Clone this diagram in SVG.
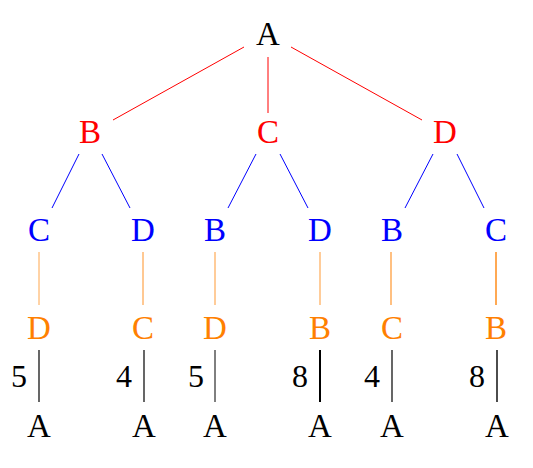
<svg xmlns="http://www.w3.org/2000/svg" width="533" height="468" viewBox="0 0 533 468">
  <style>
    .lbl { font-family: "Liberation Serif", "DejaVu Serif", serif; font-size: 33px; text-anchor: middle; }
    .num { font-family: "Liberation Serif", "DejaVu Serif", serif; font-size: 32px; text-anchor: middle; fill: #000; }
    .r { fill: #ff0000; }
    .b { fill: #0000ff; }
    .o { fill: #ff8000; }
    .k { fill: #000000; }
    .er { stroke: #ff0000; stroke-width: 1; fill: none; }
    .eb { stroke: #0000ff; stroke-width: 1; fill: none; }
    .eo { stroke: #ff8000; fill: none; }
    .ek { stroke: #000000; fill: none; }
  </style>
  <rect width="533" height="468" fill="#ffffff"/>

  <!-- tree edges -->
  <g id="connectors">
    <line class="er" x1="244" y1="47" x2="113" y2="120"/>
    <line class="er" x1="268" y1="57" x2="268" y2="113"/>
    <line class="er" x1="291" y1="47" x2="422" y2="120"/>

    <line class="eb" x1="79" y1="154" x2="52" y2="208"/>
    <line class="eb" x1="102" y1="154" x2="130" y2="208"/>
    <line class="eb" x1="256" y1="154" x2="228" y2="208"/>
    <line class="eb" x1="280" y1="154" x2="308" y2="208"/>
    <line class="eb" x1="433" y1="154" x2="405" y2="208"/>
    <line class="eb" x1="457" y1="154" x2="484" y2="208"/>

    <line class="eo" x1="39" y1="252" x2="39" y2="305" stroke-width="1" stroke-opacity="0.7"/>
    <line class="eo" x1="143" y1="252" x2="143" y2="305" stroke-width="1" stroke-opacity="0.85"/>
    <line class="eo" x1="215" y1="252" x2="215" y2="305" stroke-width="1" stroke-opacity="0.8"/>
    <line class="eo" x1="320" y1="252" x2="320" y2="305" stroke-width="1" stroke-opacity="0.8"/>
    <line class="eo" x1="391" y1="252" x2="391" y2="305" stroke-width="1.1" stroke-opacity="0.9"/>
    <line class="eo" x1="496" y1="252" x2="496" y2="305" stroke-width="1.5" stroke-opacity="0.9"/>

    <line class="ek" x1="39" y1="350" x2="39" y2="402" stroke-width="1.2"/>
    <line class="ek" x1="144" y1="350" x2="144" y2="402" stroke-width="1.2"/>
    <line class="ek" x1="215" y1="350" x2="215" y2="402" stroke-width="1"/>
    <line class="ek" x1="320" y1="350" x2="320" y2="402" stroke-width="2"/>
    <line class="ek" x1="392" y1="350" x2="392" y2="402" stroke-width="1.2"/>
    <line class="ek" x1="497" y1="350" x2="497" y2="402" stroke-width="1.4"/>
  </g>

  <!-- edge weights -->
  <g id="weights">
    <text class="num" x="19" y="387">5</text>
    <text class="num" x="124" y="387">4</text>
    <text class="num" x="196" y="387">5</text>
    <text class="num" x="300" y="387">8</text>
    <text class="num" x="372" y="387">4</text>
    <text class="num" x="477" y="387">8</text>
  </g>

  <!-- level 0 -->
  <g id="n0"><text class="lbl k" x="268" y="45">A</text></g>

  <!-- level 1 -->
  <g id="n1"><text class="lbl r" x="90" y="143">B</text></g>
  <g id="n2"><text class="lbl r" x="268" y="143">C</text></g>
  <g id="n3"><text class="lbl r" x="445" y="143">D</text></g>

  <!-- level 2 -->
  <g id="n4"><text class="lbl b" x="39" y="241">C</text></g>
  <g id="n5"><text class="lbl b" x="143" y="241">D</text></g>
  <g id="n6"><text class="lbl b" x="215" y="241">B</text></g>
  <g id="n7"><text class="lbl b" x="320" y="241">D</text></g>
  <g id="n8"><text class="lbl b" x="392" y="241">B</text></g>
  <g id="n9"><text class="lbl b" x="496" y="241">C</text></g>

  <!-- level 3 -->
  <g id="n10"><text class="lbl o" x="39" y="339">D</text></g>
  <g id="n11"><text class="lbl o" x="143" y="339">C</text></g>
  <g id="n12"><text class="lbl o" x="215" y="339">D</text></g>
  <g id="n13"><text class="lbl o" x="320" y="339">B</text></g>
  <g id="n14"><text class="lbl o" x="392" y="339">C</text></g>
  <g id="n15"><text class="lbl o" x="496" y="339">B</text></g>

  <!-- level 4 -->
  <g id="n16"><text class="lbl k" x="39" y="437">A</text></g>
  <g id="n17"><text class="lbl k" x="144" y="437">A</text></g>
  <g id="n18"><text class="lbl k" x="215" y="437">A</text></g>
  <g id="n19"><text class="lbl k" x="320" y="437">A</text></g>
  <g id="n20"><text class="lbl k" x="392" y="437">A</text></g>
  <g id="n21"><text class="lbl k" x="497" y="437">A</text></g>
</svg>
